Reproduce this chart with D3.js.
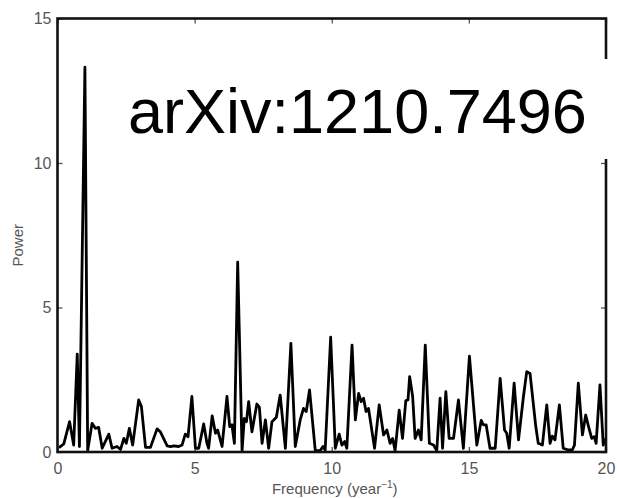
<!DOCTYPE html>
<html>
<head>
<meta charset="utf-8">
<script src="https://cdn.jsdelivr.net/npm/d3@7"></script>
<style>
  html, body { margin: 0; padding: 0; background: #fff; }
  svg { display: block; font-family: "Liberation Sans", Arial, Helvetica, sans-serif; }
</style>
</head>
<body>
<svg id="chart" width="617" height="498"></svg>
<script>
// Periodogram: frequency (1/year) and power
const freq = [0.05, 0.11, 0.23, 0.44, 0.59, 0.72, 0.80, 1.00, 1.10, 1.26, 1.38, 1.50, 1.63, 1.87, 1.99,
  2.17, 2.30, 2.42, 2.51, 2.62, 2.74, 2.96, 3.06, 3.21, 3.39, 3.63, 3.75, 4.00, 4.12, 4.24, 4.42,
  4.54, 4.66, 4.76, 4.90, 5.03, 5.15, 5.33, 5.45, 5.51, 5.64, 5.76, 5.84, 6.00, 6.18, 6.28, 6.36,
  6.45, 6.57, 6.73, 6.81, 6.89, 6.97, 7.09, 7.27, 7.36, 7.46, 7.58, 7.70, 7.82, 7.98, 8.12, 8.31,
  8.51, 8.67, 8.85, 8.97, 9.07, 9.19, 9.40, 9.58, 9.68, 9.76, 9.96, 10.13, 10.27, 10.37, 10.47,
  10.55, 10.74, 10.86, 10.98, 11.07, 11.16, 11.25, 11.34, 11.56, 11.73, 11.89, 12.01, 12.13, 12.22,
  12.31, 12.46, 12.58, 12.70, 12.78, 12.84, 12.95, 13.04, 13.16, 13.26, 13.41, 13.56, 13.71, 13.83,
  13.95, 14.04, 14.16, 14.28, 14.44, 14.62, 14.80, 15.02, 15.29, 15.45, 15.53, 15.63, 15.77, 15.96,
  16.14, 16.30, 16.38, 16.47, 16.65, 16.81, 16.99, 17.11, 17.23, 17.44, 17.53, 17.68, 17.84, 17.96,
  18.04, 18.14, 18.30, 18.44, 18.63, 18.77, 18.85, 18.99, 19.14, 19.26, 19.38, 19.48, 19.57, 19.64,
  19.78, 19.90, 19.96];
const power = [0.15, 0.19, 0.28, 1.05, 0.24, 3.39, 0.19, 13.32, 0.05, 0.99, 0.82, 0.85, 0.13, 0.62, 0.13,
  0.19, 0.09, 0.47, 0.30, 0.82, 0.24, 1.80, 1.57, 0.16, 0.16, 0.80, 0.70, 0.21, 0.19, 0.21, 0.19,
  0.24, 0.62, 0.53, 1.92, 0.13, 0.13, 0.97, 0.30, 0.13, 1.25, 0.65, 0.76, 0.19, 1.92, 0.88, 0.94,
  0.30, 6.57, 0.05, 1.16, 1.05, 1.74, 0.70, 1.66, 1.55, 0.30, 1.11, 0.13, 1.05, 1.20, 1.97, 0.13,
  3.76, 0.19, 1.11, 1.51, 1.40, 2.15, 0.05, 0.05, 0.19, 0.07, 3.97, 0.13, 0.62, 0.24, 0.36,
  0.13, 3.70, 1.11, 2.03, 1.74, 1.86, 1.40, 1.51, 0.13, 1.63, 0.59, 0.76, 0.30, 0.47,
  0.05, 1.45, 0.47, 1.78, 1.80, 2.61, 1.92, 0.47, 0.76, 0.42, 3.70, 0.30, 0.24, 0.05,
  1.86, 0.13, 2.09, 0.47, 0.47, 1.80, 0.13, 3.32, 0.24, 1.09, 0.94, 0.94, 0.13, 0.13,
  2.55, 0.76, 0.65, 0.13, 2.38, 0.42, 1.92, 2.78, 2.72, 0.88, 0.30, 0.24, 1.63, 0.30,
  0.55, 0.42, 1.63, 0.13, 0.07, 0.07, 0.24, 2.38, 0.59, 1.28, 0.82, 0.47, 0.53, 0.30,
  2.32, 0.24, 0.47];

const xTicks = [0, 5, 10, 15, 20];
const yTicks = [0, 5, 10, 15];
const xLabel = "Frequency (year";
const yLabel = "Power";
const stamp = "arXiv:1210.7496";

const svg = d3.select("#chart");
const plotL = 57.5, plotR = 606, plotT = 18.5, plotB = 452;

const x = d3.scaleLinear().domain([0, 20]).range([plotL, plotR]);
const y = d3.scaleLinear().domain([0, 15]).range([plotB, plotT]);

const tickColor = "#555";

// inward ticks on all four sides
function styleAxis(g) {
  g.select(".domain").remove();
  g.selectAll(".tick line").attr("stroke", tickColor).attr("stroke-width", 1.3);
  g.selectAll(".tick text").attr("fill", tickColor).style("font-size", "16px")
    .style("font-family", "'Liberation Sans', Arial, sans-serif");
}

svg.append("g").attr("transform", `translate(0,${plotB})`)
  .call(d3.axisBottom(x).tickValues(xTicks).tickFormat(d3.format("d")).tickSizeInner(-5).tickSizeOuter(0).tickPadding(11))
  .call(styleAxis);
svg.append("g").attr("transform", `translate(0,${plotT})`)
  .call(d3.axisTop(x).tickValues(xTicks).tickFormat("").tickSizeInner(-5).tickSizeOuter(0))
  .call(styleAxis);
svg.append("g").attr("transform", `translate(${plotL},0)`)
  .call(d3.axisLeft(y).tickValues(yTicks).tickFormat(d3.format("d")).tickSizeInner(-5).tickSizeOuter(0).tickPadding(6))
  .call(styleAxis);
svg.append("g").attr("transform", `translate(${plotR},0)`)
  .call(d3.axisRight(y).tickValues(yTicks).tickFormat("").tickSizeInner(-5).tickSizeOuter(0))
  .call(styleAxis);

// spectrum
const pts = freq.map((f, i) => [f, power[i]]);
svg.append("path")
  .datum(pts)
  .attr("fill", "none")
  .attr("stroke", "#000")
  .attr("stroke-width", 2.8)
  .attr("stroke-linejoin", "round")
  .attr("d", d3.line().x(d => x(d[0])).y(d => y(d[1])));

// frame
svg.append("rect")
  .attr("x", plotL).attr("y", plotT)
  .attr("width", plotR - plotL).attr("height", plotB - plotT)
  .attr("fill", "none").attr("stroke", "#111").attr("stroke-width", 2.6);

// axis titles
svg.append("text")
  .attr("transform", `translate(23,${(plotT + plotB) / 2 + 10}) rotate(-90)`)
  .attr("text-anchor", "middle")
  .attr("fill", tickColor)
  .style("font-size", "15px")
  .text(yLabel);

const xt = svg.append("text")
  .attr("x", (plotL + plotR) / 2 + 3).attr("y", 494)
  .attr("text-anchor", "middle")
  .attr("fill", tickColor)
  .style("font-size", "15px");
xt.append("tspan").text(xLabel);
xt.append("tspan").attr("dy", -6).style("font-size", "10px").text("\u22121");
xt.append("tspan").attr("dy", 6).text(")");

// identifier stamp on a white backing
svg.append("rect")
  .attr("x", 120).attr("y", 59).attr("width", 497).attr("height", 100)
  .attr("fill", "#fff");
svg.append("text")
  .attr("x", 128).attr("y", 133)
  .attr("fill", "#000")
  .style("font-size", "63px")
  .text(stamp);
</script>
</body>
</html>
